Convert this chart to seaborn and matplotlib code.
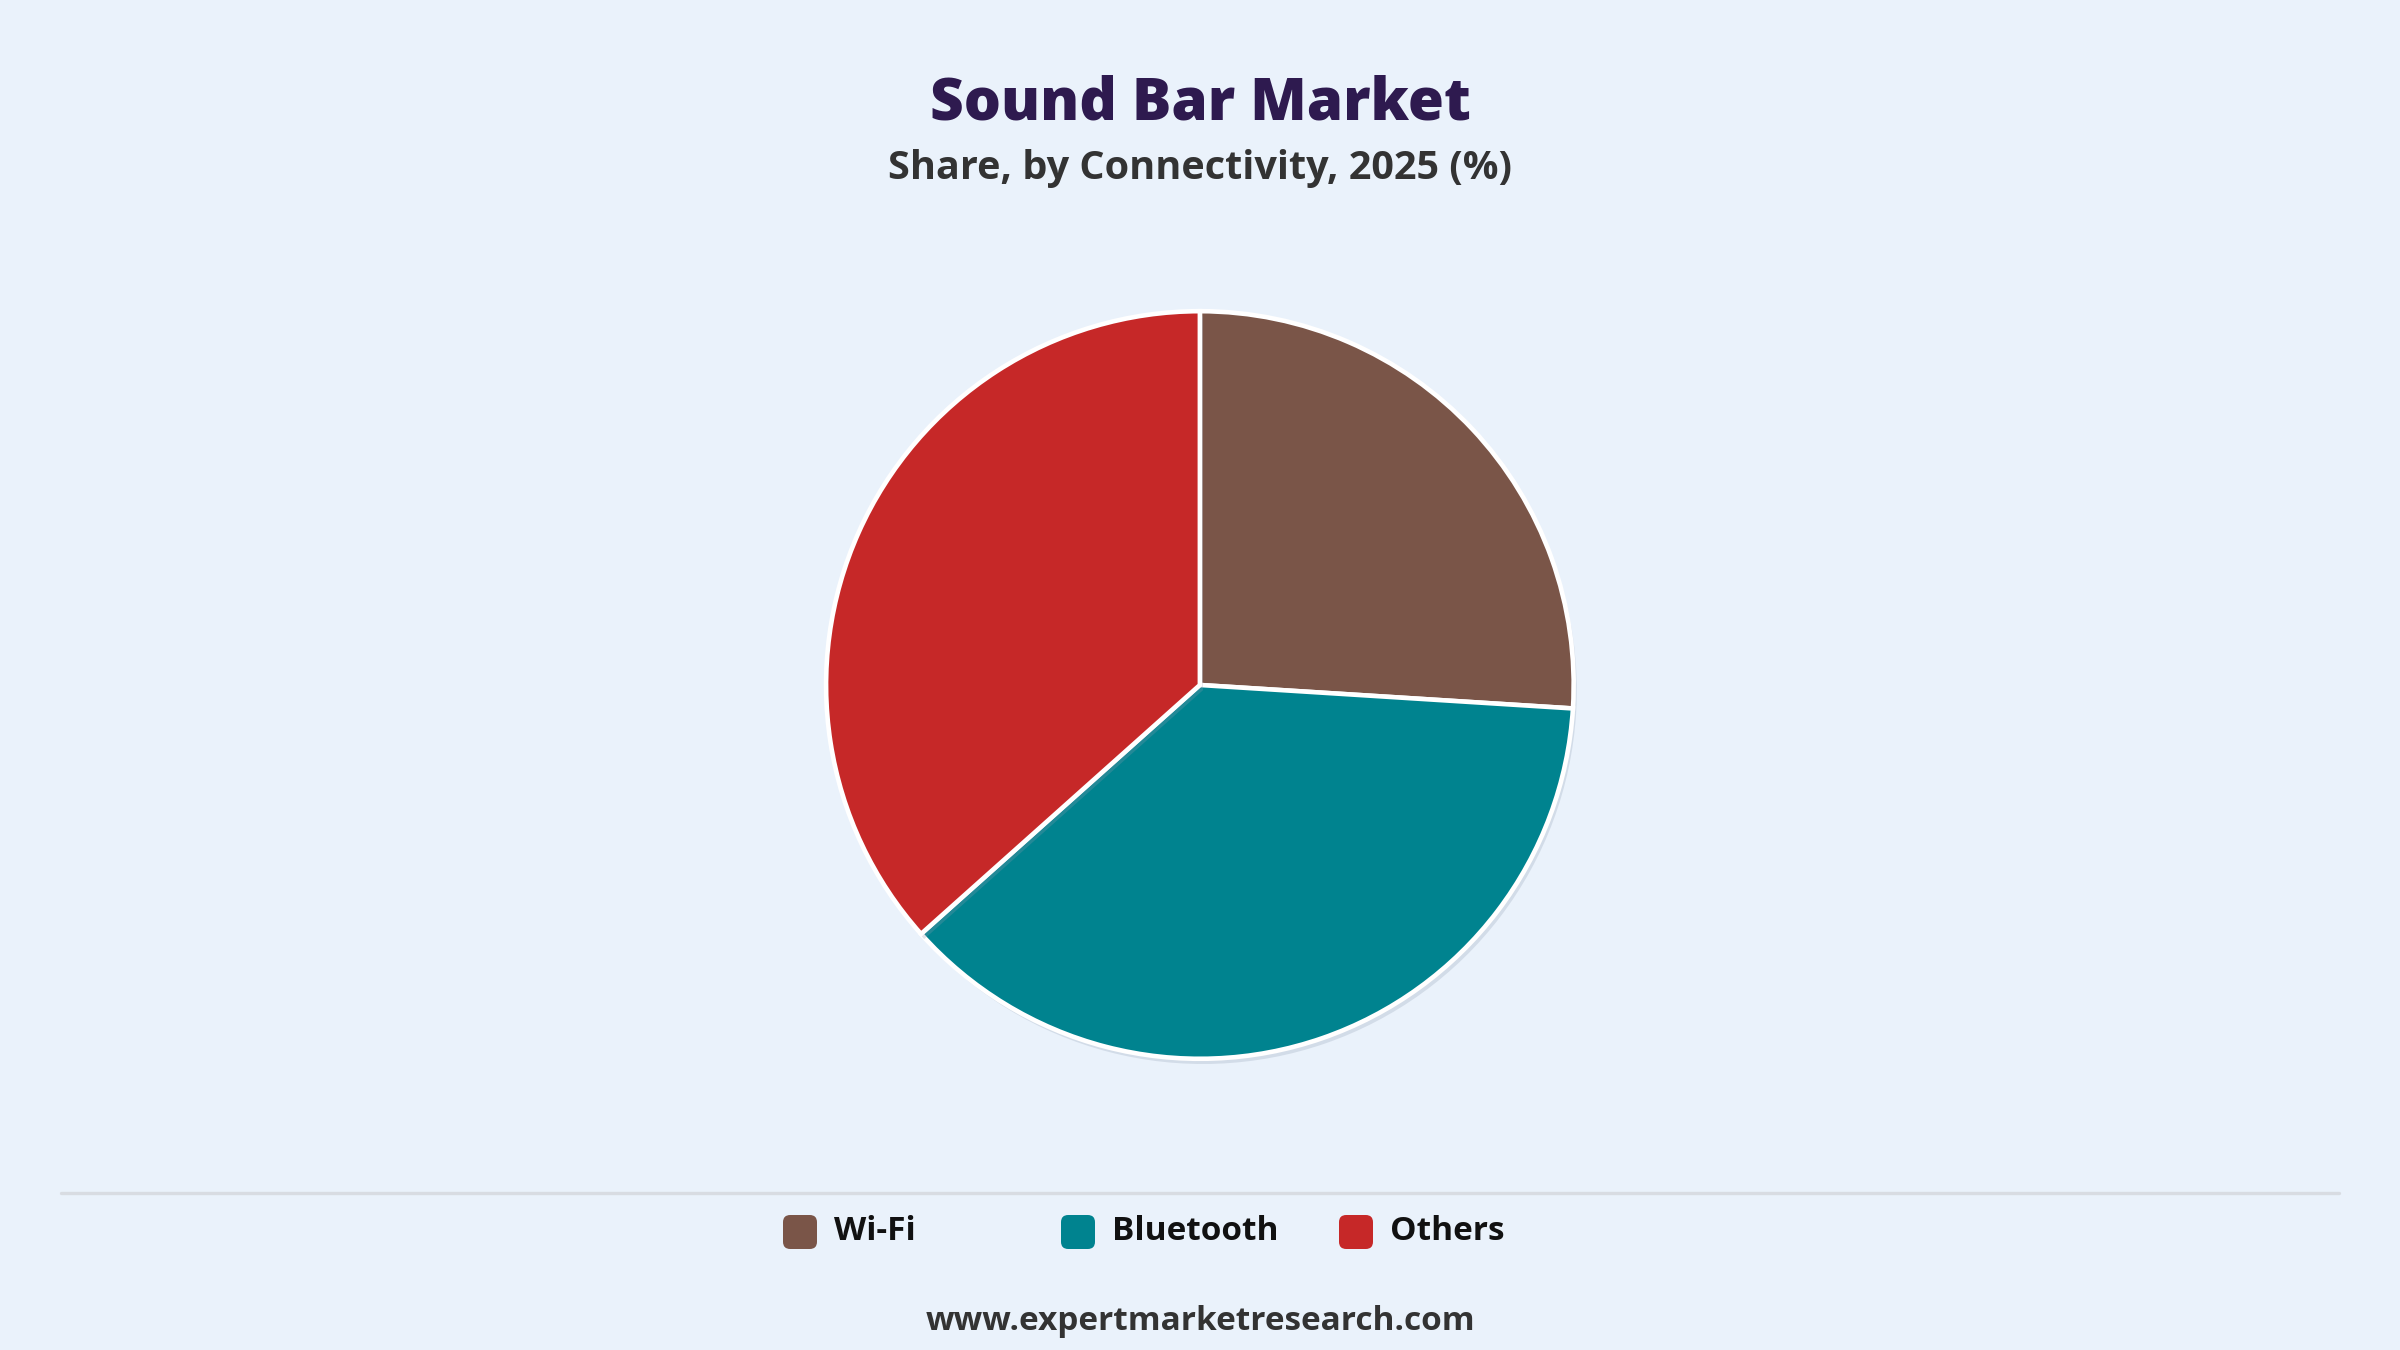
import matplotlib
matplotlib.use("Agg")
import matplotlib.pyplot as plt
import matplotlib.patheffects as pe
from matplotlib.patches import FancyBboxPatch
from matplotlib.lines import Line2D
import seaborn as sns

sns.set_theme(style="white")
plt.rcParams['font.family'] = ['Open Sans', 'DejaVu Sans']

# data
segments = ['Wi-Fi', 'Bluetooth', 'Others']
shares = [26.0, 37.4, 36.6]
colours = ['#7a5548', '#00838f', '#c62828']

bg = '#eaf2fb'

fig = plt.figure(figsize=(16, 9), dpi=150, facecolor=bg)

# pie axes, square, centred at (1200, 685) px
ax = fig.add_axes([0.3333, 0.1963, 0.3333, 0.5926])
ax.set_facecolor(bg)
wedges, _ = ax.pie(shares, colors=colours, startangle=90, counterclock=False,
                   radius=1.0,
                   wedgeprops=dict(edgecolor='white', linewidth=2.2))
for w in wedges:
    w.set_path_effects([pe.SimplePatchShadow(offset=(1.5, -2.5), shadow_rgbFace='#8c9bb0', alpha=0.25),
                        pe.Normal()])
ax.set_xlim(-1.07, 1.07)
ax.set_ylim(-1.07, 1.07)
ax.set_aspect('equal')
ax.axis('off')

# titles
fig.text(0.5, 1 - 104 / 1350, 'Sound Bar Market', ha='center', va='center',
         fontsize=28, fontweight='heavy', color='#2e1a4f')
fig.text(0.5, 1 - 168 / 1350, 'Share, by Connectivity, 2025 (%)', ha='center', va='center',
         fontsize=19, fontweight='bold', color='#333333')

# separator line
fig.add_artist(Line2D([61 / 2400, 2339 / 2400], [1 - 1193 / 1350] * 2,
                      color='#d8dce2', linewidth=1.6, transform=fig.transFigure))

# legend
W, H = 2400, 1350
for i, (name, c) in enumerate(zip(segments, colours)):
    x0 = 783 + i * 278
    yc = 1232
    box = FancyBboxPatch((x0 / W, (H - yc - 17) / H), 34 / W, 34 / H,
                         boxstyle='round,pad=0,rounding_size=0.003',
                         facecolor=c, edgecolor='none', transform=fig.transFigure,
                         mutation_aspect=W / H)
    fig.add_artist(box)
    fig.text((x0 + 51) / W, 1 - yc / H, name, ha='left', va='center',
             fontsize=16, fontweight='bold', color='#111111')

fig.text(0.5, 1 - 1322 / 1350, 'www.expertmarketresearch.com', ha='center', va='center',
         fontsize=16, fontweight='bold', color='#333333')

fig.savefig('out.png', dpi=150, facecolor=bg)
